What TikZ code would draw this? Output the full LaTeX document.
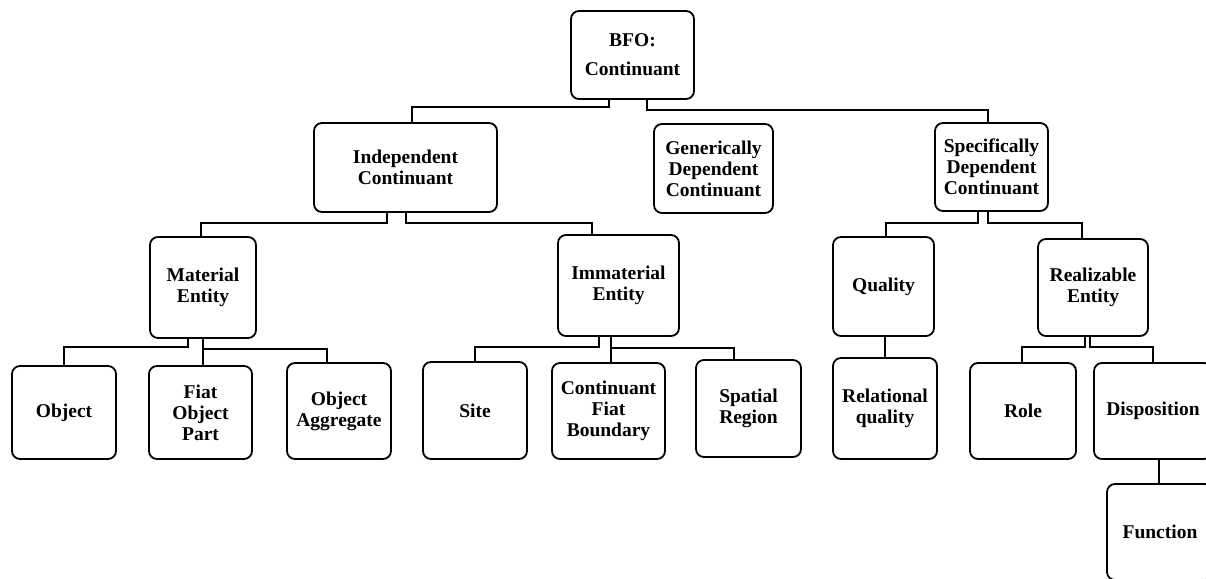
\documentclass[tikz,border=0pt]{standalone}
\usepackage{fontspec}
\setmainfont{Liberation Serif}
\begin{document}
\begin{tikzpicture}[x=1pt,y=-1pt,
  bx/.style={draw, line width=1.8pt, rounded corners=8pt, align=center, inner sep=0pt,
    font=\bfseries\fontsize{19.5}{21}\selectfont},
  cn/.style={line width=1.8pt}]
\useasboundingbox (0,0) rectangle (1206,578);
\fill[white] (0,0) rectangle (1206,578);
\clip (0,0) rectangle (1206,578);
\newcommand\mybox[6]{\node[bx, minimum width={(#4-#3)*1pt}, minimum height={(#6-#5)*1pt}]
  (#1) at ({(#3+#4)/2},{(#5+#6)/2}) {#2};}
\mybox{bfo}{BFO:\\[8pt]Continuant}{571}{694}{11}{99}
\mybox{ind}{Independent\\Continuant}{314}{497}{123}{212}
\mybox{gen}{Generically\\Dependent\\Continuant}{654}{773}{124}{213}
\mybox{spec}{Specifically\\Dependent\\Continuant}{935}{1048}{123}{211}
\mybox{mat}{Material\\Entity}{150}{256}{237}{338}
\mybox{imm}{Immaterial\\Entity}{558}{679}{235}{336}
\mybox{qual}{Quality}{833}{934}{237}{336}
\mybox{real}{Realizable\\Entity}{1038}{1148}{239}{336}
\mybox{obj}{Object}{12}{116}{366}{459}
\mybox{fiat}{Fiat\\Object\\Part}{149}{252}{366}{459}
\mybox{agg}{Object\\Aggregate}{287}{391}{363}{459}
\mybox{site}{Site}{423}{527}{362}{459}
\mybox{cfb}{Continuant\\Fiat\\Boundary}{552}{665}{363}{459}
\mybox{spat}{Spatial\\Region}{696}{801}{360}{457}
\mybox{rel}{Relational\\quality}{833}{937}{358}{459}
\mybox{role}{Role}{970}{1076}{363}{459}
\mybox{disp}{Disposition}{1094}{1212}{363}{459}
\mybox{func}{Function}{1107}{1213}{484}{580}
% connectors
\draw[cn] ([xshift=-23.5pt]bfo.south) |- ([xshift=6.5pt,yshift=15pt]ind.north) -- ([xshift=6.5pt]ind.north);
\draw[cn] ([xshift=14.5pt]bfo.south) |- ([xshift=-3.5pt,yshift=12pt]spec.north) -- ([xshift=-3.5pt]spec.north);
\draw[cn] ([xshift=-18.5pt]ind.south) |- ([xshift=-2pt,yshift=13pt]mat.north) -- ([xshift=-2pt]mat.north);
\draw[cn] ([xshift=0.5pt]ind.south) |- ([xshift=-26.5pt,yshift=11pt]imm.north) -- ([xshift=-26.5pt]imm.north);
\draw[cn] ([xshift=-15pt]mat.south) |- ([yshift=18pt]obj.north) -- (obj.north);
\draw[cn] (mat.south) -- (mat.south |- fiat.north);
\draw[cn] ([yshift=-10pt]mat.south) -| ([xshift=-12pt]agg.north);
\draw[cn] ([xshift=-19.5pt]imm.south) |- ([yshift=14pt]site.north) -- (site.north);
\draw[cn] ([xshift=-7.5pt]imm.south) -- ([xshift=-7.5pt]imm.south |- cfb.north);
\draw[cn] ([xshift=-7.5pt,yshift=-11pt]imm.south) -| ([xshift=-14.5pt]spat.north);
\draw[cn] ([xshift=-13.5pt]spec.south) |- ([xshift=2.5pt,yshift=13pt]qual.north) -- ([xshift=2.5pt]qual.north);
\draw[cn] ([xshift=-3.5pt]spec.south) |- ([xshift=-11pt,yshift=15pt]real.north) -- ([xshift=-11pt]real.north);
\draw[cn] ([xshift=1.5pt]qual.south) -- ([xshift=1.5pt]qual.south |- rel.north);
\draw[cn] ([xshift=-8pt]real.south) |- ([xshift=-1pt,yshift=15pt]role.north) -- ([xshift=-1pt]role.north);
\draw[cn] ([xshift=-3pt]real.south) |- ([yshift=15pt]disp.north) -- (disp.north);
\draw[cn] ([xshift=6pt]disp.south) -- ([xshift=6pt]disp.south |- func.north);
\end{tikzpicture}
\end{document}
